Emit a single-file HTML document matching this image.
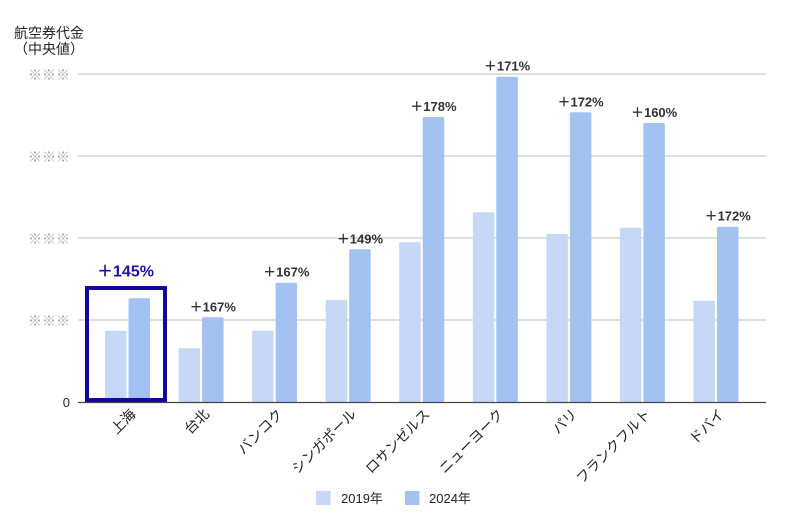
<!DOCTYPE html>
<html><head><meta charset="utf-8">
<style>
html,body{margin:0;padding:0;background:#fff;}
svg{display:block;}
text{font-family:"Liberation Sans","Noto Sans CJK JP",sans-serif;}
.cj{font-family:"Noto Sans CJK JP",sans-serif;}
</style></head>
<body>
<svg width="790" height="531" viewBox="0 0 790 531" xmlns="http://www.w3.org/2000/svg">
<rect width="790" height="531" fill="#fff"/>
<!-- title -->
<text x="14" y="38" font-size="14" fill="#222">航空券代金</text>
<text x="14" y="54" font-size="14" fill="#222">（中央値）</text>
<!-- gridlines -->
<g stroke="#cccccc" stroke-width="1.2">
<line x1="78" y1="74" x2="766" y2="74"/>
<line x1="78" y1="156" x2="766" y2="156"/>
<line x1="78" y1="238" x2="766" y2="238"/>
<line x1="78" y1="320" x2="766" y2="320"/>
</g>
<g class="cj" font-size="14" fill="#a8a8a8" text-anchor="end" font-weight="bold">
<text x="70" y="80">※※※</text>
<text x="70" y="162">※※※</text>
<text x="70" y="244">※※※</text>
<text x="70" y="326">※※※</text>
</g>
<text x="70" y="407" font-size="13" fill="#222" text-anchor="end">0</text>
<!-- bars -->
<g fill="#c6d8f6">
<rect x="105" y="330.7" width="21.5" height="71.3" rx="1.5"/>
<rect x="178.6" y="348.3" width="21.5" height="53.7" rx="1.5"/>
<rect x="252.1" y="330.7" width="21.5" height="71.3" rx="1.5"/>
<rect x="325.7" y="300" width="21.5" height="102" rx="1.5"/>
<rect x="399.2" y="242.3" width="21.5" height="159.7" rx="1.5"/>
<rect x="472.8" y="212.3" width="21.5" height="189.7" rx="1.5"/>
<rect x="546.4" y="234" width="21.5" height="168" rx="1.5"/>
<rect x="619.9" y="227.7" width="21.5" height="174.3" rx="1.5"/>
<rect x="693.5" y="300.7" width="21.5" height="101.3" rx="1.5"/>
</g>
<g fill="#a3c2f2">
<rect x="128.5" y="298.3" width="21.5" height="103.7" rx="1.5"/>
<rect x="202.1" y="317.3" width="21.5" height="84.7" rx="1.5"/>
<rect x="275.6" y="282.7" width="21.5" height="119.3" rx="1.5"/>
<rect x="349.2" y="249.3" width="21.5" height="152.7" rx="1.5"/>
<rect x="422.7" y="117" width="21.5" height="285" rx="1.5"/>
<rect x="496.3" y="76.7" width="21.5" height="325.3" rx="1.5"/>
<rect x="569.9" y="112.3" width="21.5" height="289.7" rx="1.5"/>
<rect x="643.4" y="123" width="21.5" height="279" rx="1.5"/>
<rect x="717" y="226.7" width="21.5" height="175.3" rx="1.5"/>
</g>
<!-- axis -->
<line x1="78" y1="402.5" x2="766" y2="402.5" stroke="#444" stroke-width="1.2"/>
<!-- highlight box -->
<rect x="87" y="288" width="78" height="112" fill="none" stroke="#1407a0" stroke-width="4"/>
<text x="125.5" y="276.5" font-size="16" font-weight="bold" fill="#1b10a0" text-anchor="middle">＋145%</text>
<!-- value labels -->
<g font-size="13" font-weight="bold" fill="#333" text-anchor="middle">
<text x="212.8" y="311.3">＋167%</text>
<text x="286.3" y="276.7">＋167%</text>
<text x="359.9" y="243.3">＋149%</text>
<text x="433.4" y="111">＋178%</text>
<text x="507" y="70.7">＋171%</text>
<text x="580.6" y="106.3">＋172%</text>
<text x="654.1" y="117">＋160%</text>
<text x="727.7" y="220.7">＋172%</text>
</g>
<!-- x labels -->
<g font-size="14" fill="#222" text-anchor="end">
<text x="136.5" y="415" transform="rotate(-45 136.5 415)">上海</text>
<text x="210.1" y="415" transform="rotate(-45 210.1 415)">台北</text>
<text x="283.6" y="415" transform="rotate(-45 283.6 415)">バンコク</text>
<text x="357.2" y="415" transform="rotate(-45 357.2 415)">シンガポール</text>
<text x="430.7" y="415" transform="rotate(-45 430.7 415)">ロサンゼルス</text>
<text x="504.3" y="415" transform="rotate(-45 504.3 415)">ニューヨーク</text>
<text x="577.9" y="415" transform="rotate(-45 577.9 415)">パリ</text>
<text x="651.4" y="415" transform="rotate(-45 651.4 415)">フランクフルト</text>
<text x="725" y="415" transform="rotate(-45 725 415)">ドバイ</text>
</g>
<!-- legend -->
<rect x="316" y="491" width="14.5" height="14" fill="#c6d8f6"/>
<text x="341" y="503" font-size="13" fill="#222">2019年</text>
<rect x="405" y="491" width="14.5" height="14" fill="#a3c2f2"/>
<text x="429" y="503" font-size="13" fill="#222">2024年</text>
</svg>
</body></html>
